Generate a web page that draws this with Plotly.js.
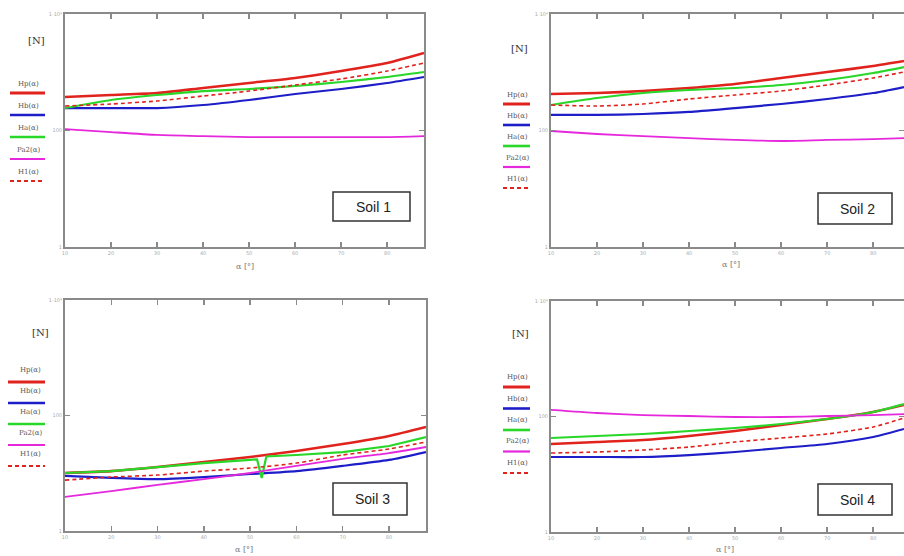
<!DOCTYPE html>
<html>
<head>
<meta charset="utf-8">
<script src="https://cdn.plot.ly/plotly-3.0.1.min.js"></script>
<style>html,body{margin:0;padding:0;background:#fff;}#chart{width:904px;height:556px;}</style>
</head>
<body>
<div id="chart"></div>
<script>
// ---- data ----
var xLeft  = [10, 20, 30, 40, 50, 60, 70, 80, 88];
var xRight = [10, 20, 30, 40, 50, 60, 70, 80, 86.7];
var xTicks = [10, 20, 30, 40, 50, 60, 70, 80];
var yTickVals = [1, 100, 10000];
var yTickText = ["1", "100", "1·10⁴"];
var seriesNames = ["Hp(α)", "Hb(α)", "Ha(α)", "Pa2(α)", "H1(α)"];
var soilNames = ["Soil 1", "Soil 2", "Soil 3", "Soil 4"];

// Soil 1
var soil1_Hp  = [376, 407, 440, 537, 654, 797, 1050, 1442, 2140];
var soil1_Hb  = [243, 243, 243, 274, 334, 423, 516, 654, 829];
var soil1_Ha  = [243, 334, 407, 476, 516, 581, 680, 829, 1010];
var soil1_Pa2 = [106, 94, 84, 80, 77, 77, 77, 77, 80];
var soil1_H1  = [263, 285, 321, 391, 476, 604, 766, 1050, 1442];
// Soil 2
var soil2_Hp  = [423, 440, 476, 537, 629, 797, 1010, 1280, 1560];
var soil2_Hb  = [185, 185, 192, 208, 243, 285, 347, 440, 558];
var soil2_Ha  = [274, 361, 440, 496, 537, 604, 736, 971, 1230];
var soil2_Pa2 = [98, 87, 80, 74, 69, 66, 69, 71, 74];
var soil2_H1  = [274, 263, 285, 347, 407, 476, 604, 797, 1010];
// Soil 3
var soil3_Hp  = [10.1, 10.9, 12.8, 15.7, 19.1, 24.3, 32.1, 44.2, 63.2];
var soil3_Hb  = [9.0, 8.3, 7.9, 8.6, 9.7, 10.9, 13.4, 17.0, 23.3];
var soil3_Ha_x = [10, 20, 30, 40, 50, 51.5, 52.5, 53.5, 60, 70, 80, 88];
var soil3_Ha  = [10.1, 10.9, 12.8, 15.0, 17.0, 17.4, 8.3, 19.5, 20.7, 23.3, 29.6, 42.4];
var soil3_Pa2 = [3.9, 4.9, 6.3, 7.9, 10.1, 13.4, 17.7, 22.4, 28.5];
var soil3_H1  = [7.6, 8.6, 9.3, 10.9, 12.3, 15.0, 20.7, 26.3, 34.8];
// Soil 4
var soil4_Hp  = [33.4, 36.2, 39.2, 46.0, 56.1, 71.3, 90.5, 119.6, 158];
var soil4_Hb  = [19.9, 19.9, 19.9, 21.5, 24.3, 28.5, 33.4, 44.2, 60.8];
var soil4_Ha  = [42.4, 46.0, 49.8, 56.1, 63.2, 74.1, 90.5, 119.6, 164];
var soil4_Pa2 = [130, 115, 106, 102, 98, 98, 102, 106, 110];
var soil4_H1  = [23.3, 24.3, 26.3, 29.6, 36.2, 42.4, 49.8, 65.8, 94.2];

// ---- styles ----
var styles = [
  {color: "rgb(225,35,30)",  width: 2.6, dash: "solid"},
  {color: "rgb(30,30,200)",  width: 2.2, dash: "solid"},
  {color: "rgb(40,215,40)",  width: 2.2, dash: "solid"},
  {color: "rgb(230,40,220)", width: 1.8, dash: "solid"},
  {color: "rgb(225,35,30)",  width: 1.6, dash: "4px,3px"}
];

var panels = [
  {x: xLeft,  ax: "", series: [soil1_Hp, soil1_Hb, soil1_Ha, soil1_Pa2, soil1_H1]},
  {x: xRight, ax: "2", series: [soil2_Hp, soil2_Hb, soil2_Ha, soil2_Pa2, soil2_H1]},
  {x: xLeft,  ax: "3", series: [soil3_Hp, soil3_Hb, soil3_Ha, soil3_Pa2, soil3_H1], xs: {2: soil3_Ha_x}},
  {x: xRight, ax: "4", series: [soil4_Hp, soil4_Hb, soil4_Ha, soil4_Pa2, soil4_H1]}
];

var traces = [];
panels.forEach(function (p) {
  p.series.forEach(function (s, i) {
    traces.push({
      type: "scatter", mode: "lines",
      x: (p.xs && p.xs[i]) ? p.xs[i] : p.x, y: s,
      xaxis: "x" + p.ax, yaxis: "y" + p.ax,
      line: {color: styles[i].color, width: styles[i].width, dash: styles[i].dash, shape: "spline", smoothing: 0.6},
      showlegend: false, hoverinfo: "skip", name: seriesNames[i]
    });
  });
});
// the glitch in soil 3 green should not be smoothed
traces[12].line.shape = "linear";

var W = 904, H = 556;
function fx(px) { return px / W; }
function fy(py) { return 1 - py / H; }

// panel geometry in pixels: [left, right, top, bottom]
var geo = [
  [65, 424, 14, 247],
  [551, 904, 14, 247],
  [65, 426, 300, 531],
  [551, 904, 301, 532]
];
var xRanges = [[10, 88], [10, 86.7], [10, 88], [10, 86.7]];

var layout = {
  width: W, height: H,
  margin: {l: 0, r: 0, t: 0, b: 0},
  paper_bgcolor: "#fff", plot_bgcolor: "#fff",
  showlegend: false,
  annotations: [], shapes: []
};

function axisX(i) {
  var g = geo[i];
  return {
    domain: [fx(g[0]), fx(g[1])], range: xRanges[i], anchor: "y" + (i ? i + 1 : ""),
    showline: true, linecolor: "#8a8a8a", linewidth: 2, mirror: "allticks",
    ticks: "inside", ticklen: 5, tickwidth: 1.5, tickcolor: "#8a8a8a",
    tickvals: xTicks, showgrid: false, zeroline: false,
    tickfont: {size: 5, color: "#aaa", family: "DejaVu Sans"}, fixedrange: true
  };
}
function axisY(i) {
  var g = geo[i];
  return {
    type: "log", domain: [fy(g[3]), fy(g[2])], range: [0, 4], anchor: "x" + (i ? i + 1 : ""),
    showline: true, linecolor: "#8a8a8a", linewidth: 2, mirror: "allticks",
    ticks: "inside", ticklen: 5, tickwidth: 1.5, tickcolor: "#8a8a8a",
    tickvals: yTickVals, ticktext: yTickText, showgrid: false, zeroline: false,
    tickfont: {size: 5, color: "#aaa", family: "DejaVu Sans"}, fixedrange: true
  };
}
for (var i = 0; i < 4; i++) {
  var suf = i ? (i + 1) : "";
  layout["xaxis" + suf] = axisX(i);
  layout["yaxis" + suf] = axisY(i);
}

// legends: [text x, first text y, first line y, line x0, line x1, spacing]
var legendGeo = [
  {tx: 28, ty: 84, ly: 93, x0: 10, x1: 45, dy: 22},
  {tx: 517, ty: 95, ly: 104, x0: 503, x1: 530, dy: 21},
  {tx: 30, ty: 370, ly: 382, x0: 8, x1: 45, dy: 21},
  {tx: 517, ty: 377, ly: 387, x0: 503, x1: 530, dy: 21.5}
];
var unitPos = [[36, 40], [519, 48], [40, 332], [520, 333]];
var titlePos = [[245, 266], [731, 265], [244, 549], [725, 549]];
var boxGeo = [[333, 410, 192, 221], [818, 892, 193, 224], [333, 407, 483, 515], [818, 892, 484, 515]];

for (var p = 0; p < 4; p++) {
  var L = legendGeo[p];
  for (var k = 0; k < 5; k++) {
    layout.annotations.push({
      xref: "paper", yref: "paper", x: fx(L.tx), y: fy(L.ty + k * L.dy),
      text: seriesNames[k], showarrow: false, xanchor: "center", yanchor: "middle",
      font: {size: 7, color: "#555", family: "DejaVu Serif"}
    });
    layout.shapes.push({
      type: "line", xref: "paper", yref: "paper",
      x0: fx(L.x0), x1: fx(L.x1), y0: fy(L.ly + k * L.dy), y1: fy(L.ly + k * L.dy),
      line: {color: styles[k].color, width: styles[k].width + 0.4, dash: k === 4 ? "4px,3px" : "solid"}
    });
  }
  layout.annotations.push({
    xref: "paper", yref: "paper", x: fx(unitPos[p][0]), y: fy(unitPos[p][1]),
    text: "[N]", showarrow: false, xanchor: "center", yanchor: "middle",
    font: {size: 10, color: "#333", family: "DejaVu Serif"}
  });
  layout.annotations.push({
    xref: "paper", yref: "paper", x: fx(titlePos[p][0]), y: fy(titlePos[p][1]),
    text: "α [°]", showarrow: false, xanchor: "center", yanchor: "middle",
    font: {size: 8, color: "#777", family: "DejaVu Serif"}
  });
  var b = boxGeo[p];
  layout.shapes.push({
    type: "rect", xref: "paper", yref: "paper",
    x0: fx(b[0]), x1: fx(b[1]), y0: fy(b[3]), y1: fy(b[2]),
    line: {color: "#333", width: 1.5}, fillcolor: "#fff"
  });
  layout.annotations.push({
    xref: "paper", yref: "paper", x: fx((b[0] + b[1]) / 2 + 2), y: fy((b[2] + b[3]) / 2),
    text: soilNames[p], showarrow: false, xanchor: "center", yanchor: "middle",
    font: {size: 14, color: "#222", family: "Liberation Sans"}
  });
}

Plotly.newPlot("chart", traces, layout, {displayModeBar: false, staticPlot: true});
</script>
</body>
</html>
